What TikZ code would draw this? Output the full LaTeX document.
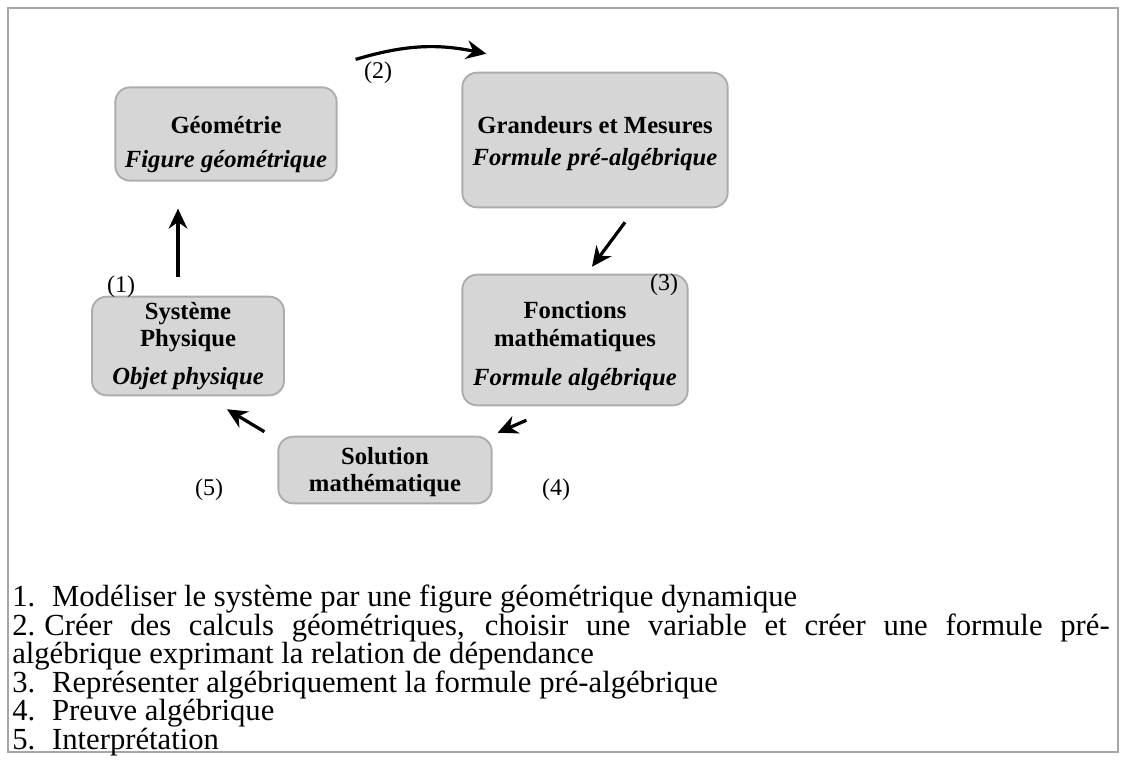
\documentclass[tikz,border=0pt]{standalone}
\usepackage{fontspec}
\setmainfont{Liberation Serif}
\usetikzlibrary{positioning,arrows.meta}

\tikzset{
  frame/.style={draw=gray!70, line width=1.5pt},
  stage/.style={draw=gray!65, line width=1.4pt, fill=gray!32, rounded corners=11pt,
    align=center, inner sep=2pt, font=\fontsize{18.5}{20.5}\selectfont\bfseries},
  steplabel/.style={inner sep=0pt, font=\fontsize{18}{20}\selectfont},
  flow/.style={-{Stealth[length=15pt,width=14pt]}, line width=2.4pt},
}

\begin{document}
\begin{tikzpicture}[x=0.75pt,y=-0.75pt]
  \useasboundingbox (0,0) rectangle (1122,761);
  \draw[frame] (8,8) rectangle (1118,752);

  % the five stages
  \node[stage, minimum width=166pt, minimum height=70pt] (geo) at (226,134)
    {\rule{0pt}{28pt}Géométrie\\[5pt]\textit{Figure géométrique}};
  \node[stage, minimum width=199pt, minimum height=101pt] (gm) at (595,140)
    {\rule{0pt}{18pt}Grandeurs et Mesures\\[3pt]\textit{Formule pré-algébrique}};
  \node[stage, minimum width=144pt, minimum height=74pt] (sys) at (188,346)
    {Système\\Physique\\[8pt]\textit{Objet physique}};
  \node[stage, minimum width=169pt, minimum height=98pt] (fm) at (575,340)
    {\rule{0pt}{22pt}Fonctions\\mathématiques\\[9pt]\textit{Formule algébrique}};
  \node[stage, minimum width=160pt, minimum height=50pt] (sol) at (385,470)
    {\rule{0pt}{16pt}Solution\\mathématique};

  % step numbers
  \node[steplabel] (l1) at (121,287) {(1)};
  \node[steplabel] (l2) at (378,73) {(2)};
  \node[steplabel] (l3) at (664,285) {(3)};
  \node[steplabel] (l4) at (556,490) {(4)};
  \node[steplabel] (l5) at (209,490) {(5)};

  % the cycle
  \draw[flow] ([shift={(-10,-19)}]sys.north) -- ([shift={(-48,27)}]geo.south);
  \draw[flow] ([shift={(18,-27)}]geo.north east) to[bend left=14] ([shift={(25,-18)}]gm.north west);
  \draw[flow] ([shift={(30,14)}]gm.south) -- ([shift={(17,-7)}]fm.north);
  \draw[flow] ([shift={(65,14)}]fm.south west) -- ([shift={(5,-3)}]sol.north east);
  \draw[flow] ([shift={(-13,-4)}]sol.north west) -- ([shift={(-58,13)}]sys.south east);

  % legend
  \node[anchor=north west, inner sep=0pt, text width=823pt, align=justify,
    font=\fontsize{23}{21.4}\selectfont] (legend) at (12,585)
    {1.\hspace{0.55em}Modéliser le système par une figure géométrique dynamique\\
     2.\hspace{0.3em}Créer des calculs géométriques, choisir une variable et créer une formule pré-\linebreak
     algébrique exprimant la relation de dépendance\\
     3.\hspace{0.55em}Représenter algébriquement la formule pré-algébrique\\
     4.\hspace{0.55em}Preuve algébrique\\
     5.\hspace{0.55em}Interprétation};
\end{tikzpicture}
\end{document}
